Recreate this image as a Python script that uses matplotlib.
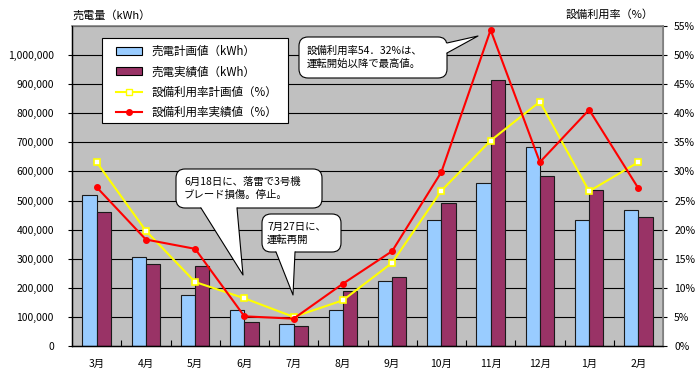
import numpy as np
import matplotlib
matplotlib.use("Agg")
import matplotlib.pyplot as plt
from matplotlib.patches import FancyBboxPatch, Polygon, Rectangle
from matplotlib.lines import Line2D
from matplotlib.ticker import FuncFormatter

plt.rcParams['font.family'] = ['Noto Sans CJK JP', 'DejaVu Sans']

months = ['3月', '4月', '5月', '6月', '7月', '8月', '9月', '10月', '11月', '12月', '1月', '2月']
plan_kwh = [520000, 307000, 177000, 125000, 77000, 125000, 223000, 434000, 561000, 685000, 434000, 467000]
actual_kwh = [460000, 283000, 276000, 83000, 68000, 188000, 238000, 491000, 915000, 585000, 535000, 443000]
plan_rate = [31.6, 19.8, 11.0, 8.2, 5.0, 7.85, 14.3, 26.7, 35.3, 42.0, 26.6, 31.6]
actual_rate = [27.3, 18.3, 16.7, 5.1, 4.7, 10.7, 16.3, 29.9, 54.32, 31.6, 40.6, 27.1]

legend_labels = ['売電計画値（kWh）', '売電実績値（kWh）', '設備利用率計画値（%）', '設備利用率実績値（%）']
left_title = '売電量（kWh）'
right_title = '設備利用率（%）'
note1 = '設備利用率54．32%は、\n運転開始以降で最高値。'
note2 = '6月18日に、落雷で3号機\nブレード損傷。停止。'
note3 = '7月27日に、\n運転再開'

W, H = 700, 378
fig = plt.figure(figsize=(W / 100, H / 100), dpi=100)
L, R, T, B = 72, 663, 26, 346
ax = fig.add_axes([L / W, 1 - B / H, (R - L) / W, (B - T) / H])
ax.set_facecolor('#C0C0C0')

x = np.arange(len(months))
bw = 0.29
ax.bar(x - bw / 2, plan_kwh, bw, color='#99CCFF', edgecolor='#1a1a1a', linewidth=0.8, zorder=2)
ax.bar(x + bw / 2, actual_kwh, bw, color='#993366', edgecolor='#1a1a1a', linewidth=0.8, zorder=2)
ax.set_xlim(-0.5, len(months) - 0.5)
ax.set_ylim(0, 1100000)
ax.set_yticks(np.arange(0, 1000001, 100000))
ax.yaxis.set_major_formatter(FuncFormatter(lambda v, p: f'{int(v):,}'))
for yv in np.arange(100000, 1100001, 100000):
    ax.axhline(yv, color='black', lw=0.8, zorder=1)
ax.set_xticks(x)
ax.set_xticklabels(months)
ax.set_xticks(x[:-1] + 0.5, minor=True)
ax.tick_params(axis='x', which='major', length=0, pad=9, labelsize=7.5)
ax.tick_params(axis='x', which='minor', direction='in', length=4, width=0.8)
ax.tick_params(axis='y', length=3, pad=10, labelsize=7.5)
for s in ['left', 'bottom']:
    ax.spines[s].set_color('black')
    ax.spines[s].set_linewidth(1.0)
for s in ['top', 'right']:
    ax.spines[s].set_color('#808080')
    ax.spines[s].set_linewidth(1.2)

ax2 = ax.twinx()
ax2.set_ylim(0, 55)
ax2.set_yticks(np.arange(0, 56, 5))
ax2.yaxis.set_major_formatter(FuncFormatter(lambda v, p: f'{int(v)}%'))
ax2.tick_params(axis='y', length=3, pad=5, labelsize=7.5)
ax2.spines['right'].set_color('#808080')
ax2.spines['top'].set_visible(False)
ax2.plot(x, plan_rate, color='#FFFF00', lw=1.5, marker='s', ms=4, mfc='white', mec='#FFFF00', mew=1.2, zorder=5)
ax2.plot(x, actual_rate, color='#FF0000', lw=1.5, marker='o', ms=4, mfc='#FF0000', mec='#FF0000', zorder=6)

fig.text(L / W, 1 - 15 / H, left_title, fontsize=8, va='center', ha='left')
fig.text(654 / W, 1 - 15 / H, right_title, fontsize=8, va='center', ha='right')

tr = fig.dpi_scale_trans

def P(xp, yp):
    return (xp / 100, (H - yp) / 100)

# legend frame
lx0, ly0, lx1, ly1 = 102, 38, 288, 123
frame = Rectangle(P(lx0, ly1), (lx1 - lx0) / 100, (ly1 - ly0) / 100, transform=tr,
                  fc='white', ec='black', lw=0.8, zorder=9)
fig.patches.append(frame)

handles = [
    Rectangle((0, 0), 1, 1, fc='#99CCFF', ec='black', lw=0.8),
    Rectangle((0, 0), 1, 1, fc='#993366', ec='black', lw=0.8),
    Line2D([], [], color='#FFFF00', lw=1.5, marker='s', ms=4, mfc='white', mec='#FFFF00'),
    Line2D([], [], color='#FF0000', lw=1.5, marker='o', ms=4, mfc='#FF0000', mec='#FF0000'),
]
leg = fig.legend(handles, legend_labels, loc='upper left', bbox_to_anchor=(116 / W, 1 - 45 / H),
                 borderaxespad=0, frameon=False, fontsize=8.3, handlelength=2.25, handletextpad=0.85,
                 labelspacing=0.64, borderpad=0)
leg.set_zorder(10)

def callout(box, base, tip, text, tx):
    x0, y0, x1, y1 = box
    bx, by = P(x0, y1)
    patch = FancyBboxPatch((bx, by), (x1 - x0) / 100, (y1 - y0) / 100,
                           boxstyle='round,pad=0,rounding_size=0.09', transform=tr,
                           fc='white', ec='black', lw=0.8, zorder=20)
    fig.patches.append(patch)
    b1, b2, inner1, inner2 = base
    poly = Polygon([P(*inner1), P(*b1), P(*tip), P(*b2), P(*inner2)], closed=True, transform=tr,
                   fc='white', ec='none', zorder=21)
    fig.patches.append(poly)
    xs, ys = zip(P(*b1), P(*tip), P(*b2))
    fig.lines.append(Line2D(xs, ys, transform=tr, color='black', lw=0.8, zorder=22))
    fig.text(*P(tx, (y0 + y1) / 2), text, transform=tr, fontsize=7.5, va='center', ha='left',
             linespacing=1.35, zorder=23)

callout((299, 37, 447, 78), ((447, 43), (447, 53), (443, 43), (443, 53)), (478, 36), note1, 307)
callout((176, 169, 322, 208), ((201, 208), (237, 208), (201, 204), (237, 204)), (243, 275), note2, 184)
callout((262, 214, 341, 252), ((276, 252), (295, 252), (276, 248), (295, 248)), (293, 295), note3, 267)

fig.savefig('out.png', dpi=100)
